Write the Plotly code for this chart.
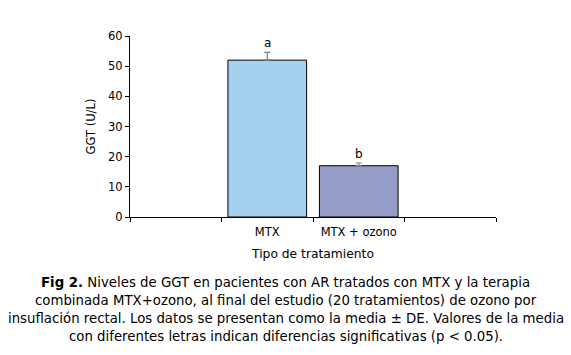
import plotly.graph_objects as go

categories = ["MTX", "MTX + ozono"]
axis_categories = [" ", "MTX", "MTX + ozono", "  "]
ggt_mean = [52, 17]
ggt_sd = [2.6, 0.9]
letters = ["a", "b"]
bar_colors = ["#A6D0F0", "#959DC8"]
y_ticks = [0, 10, 20, 30, 40, 50, 60]
caption_lines = [
    "<b>Fig 2.</b> Niveles de GGT en pacientes con AR tratados con MTX y la terapia",
    "combinada MTX+ozono, al final del estudio (20 tratamientos) de ozono por",
    "insuflación rectal. Los datos se presentan como la media ± DE. Valores de la media",
    "con diferentes letras indican diferencias significativas (p &lt; 0.05).",
]

FONT = "DejaVu Sans"
W, H = 571, 355
L, R, T, B = 130, 75, 36, 138
PW, PH = W - L - R, H - T - B

fig = go.Figure()
fig.add_trace(go.Bar(
    x=categories, y=ggt_mean,
    marker=dict(color=bar_colors, line=dict(color="black", width=1)),
    error_y=dict(type="data", array=ggt_sd, arrayminus=[0, 0], symmetric=False,
                 color="#808080", thickness=1.2, width=3),
    width=0.86,
))

for c, m, s, l in zip(categories, ggt_mean, ggt_sd, letters):
    fig.add_annotation(x=c, y=m + s, text=l, showarrow=False, yanchor="bottom",
                       yshift=0, font=dict(family=FONT, size=12, color="black"))

caption_y_px = [282, 300, 318, 336]
for line, ypx in zip(caption_lines, caption_y_px):
    fig.add_annotation(
        xref="paper", yref="paper",
        x=(W / 2 - L) / PW, y=(H - B - ypx) / PH,
        xanchor="center", yanchor="middle",
        text=line, showarrow=False, align="center",
        font=dict(family=FONT, size=13.3, color="black"),
    )

fig.update_layout(
    width=W, height=H,
    margin=dict(l=L, r=R, t=T, b=B),
    paper_bgcolor="white", plot_bgcolor="white",
    showlegend=False,
    font=dict(family=FONT, size=11, color="black"),
    xaxis=dict(
        type="category", categoryorder="array", categoryarray=axis_categories,
        range=[-0.5, 3.5], tickson="boundaries", ticks="outside", ticklen=4,
        tickcolor="black", showline=True, linecolor="black", linewidth=1,
        showgrid=False, tickfont=dict(family=FONT, size=11.5), ticklabelstandoff=4,
        title=dict(text="Tipo de tratamiento", font=dict(family=FONT, size=12.3), standoff=11),
    ),
    yaxis=dict(
        range=[0, 60], tickvals=y_ticks, ticks="outside", ticklen=4,
        tickcolor="black", showline=True, linecolor="black", linewidth=1,
        showgrid=False, zeroline=False, tickfont=dict(family=FONT, size=11.5),
        title=dict(text="GGT (U/L)", font=dict(family=FONT, size=11.5), standoff=10),
    ),
)

fig.write_html("out.html", config={"displayModeBar": False},
               post_script="document.body.style.margin='0';")
